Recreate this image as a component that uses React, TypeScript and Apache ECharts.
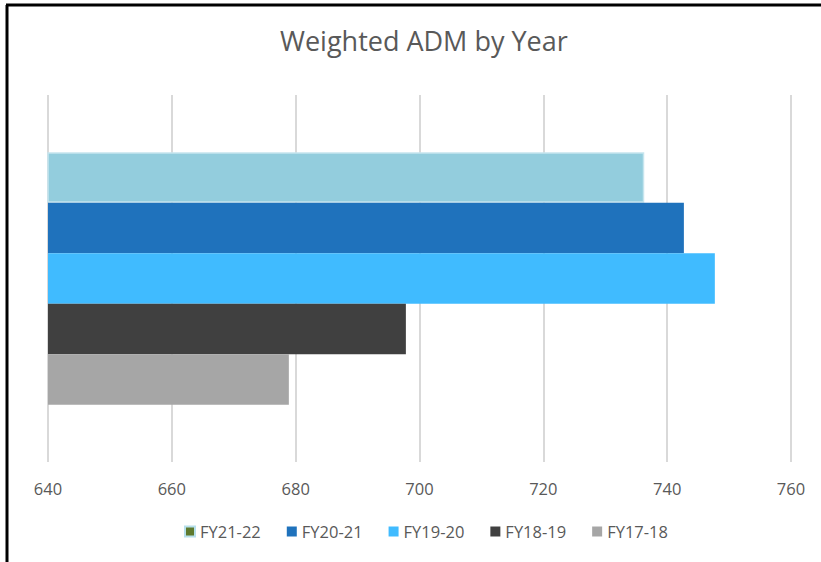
import React, { useEffect, useRef } from "react";
import * as echarts from "echarts";

const categories = ["Weighted ADM"];
const seriesNames = ["FY21-22", "FY20-21", "FY19-20", "FY18-19", "FY17-18"];
const seriesValues = [736.3, 742.7, 747.7, 697.8, 678.9];
const seriesColors = ["#93CDDD", "#1F72BC", "#40BBFF", "#404040", "#A6A6A6"];
const axisMin = 640;
const axisMax = 760;
const axisInterval = 20;

export default function App() {
  const ref = useRef<HTMLDivElement>(null);
  useEffect(() => {
    document.body.style.margin = "0";
    const chart = echarts.init(ref.current!, undefined, { renderer: "svg" });
    const font = "'Open Sans', 'Liberation Sans', sans-serif";
    chart.setOption({
      animation: false,
      backgroundColor: "#ffffff",
      title: {
        text: "Weighted ADM by Year",
        left: 275,
        top: 22,
        textStyle: { fontFamily: font, fontSize: 27, fontWeight: "normal", color: "#595959" },
      },
      legend: {
        bottom: 17,
        left: 179,
        itemWidth: 10,
        itemHeight: 10,
        itemGap: 26,
        icon: "rect",
        textStyle: { fontFamily: font, fontSize: 16.5, color: "#595959" },
        data: seriesNames.map((n, i) =>
          i === 0
            ? { name: n, itemStyle: { color: "#5E7A2E", borderColor: "#B7E0EC", borderWidth: 2 } }
            : { name: n }
        ),
      },
      grid: { left: 48, right: 30, top: 95, bottom: 100, containLabel: false },
      xAxis: {
        type: "value",
        min: axisMin,
        max: axisMax,
        interval: axisInterval,
        axisLine: { show: false },
        axisTick: { show: false },
        axisLabel: { fontFamily: font, fontSize: 16.5, color: "#595959", margin: 18 },
        splitLine: { show: true, lineStyle: { color: "#D9D9D9", width: 2 } },
      },
      yAxis: {
        type: "category",
        data: categories,
        inverse: true,
        axisLine: { show: false },
        axisTick: { show: false },
        axisLabel: { show: false },
        splitLine: { show: false },
      },
      series: seriesNames.map((n, i) => ({
        name: n,
        type: "bar",
        data: [seriesValues[i]],
        barWidth: 50.5,
        barGap: "0%",
        itemStyle: {
          color: seriesColors[i],
          borderColor: i === 0 ? "#C6E5EE" : undefined,
          borderWidth: i === 0 ? 1.5 : 0,
        },
      })),
      graphic: [
        {
          type: "line",
          shape: { x1: 7, y1: 5, x2: 7, y2: 562 },
          style: { stroke: "#000000", lineWidth: 3 },
        },
        {
          type: "line",
          shape: { x1: 6, y1: 5, x2: 821, y2: 5 },
          style: { stroke: "#000000", lineWidth: 3 },
        },
      ],
    });
    return () => chart.dispose();
  }, []);
  return <div ref={ref} style={{ width: 821, height: 562 }} />;
}
